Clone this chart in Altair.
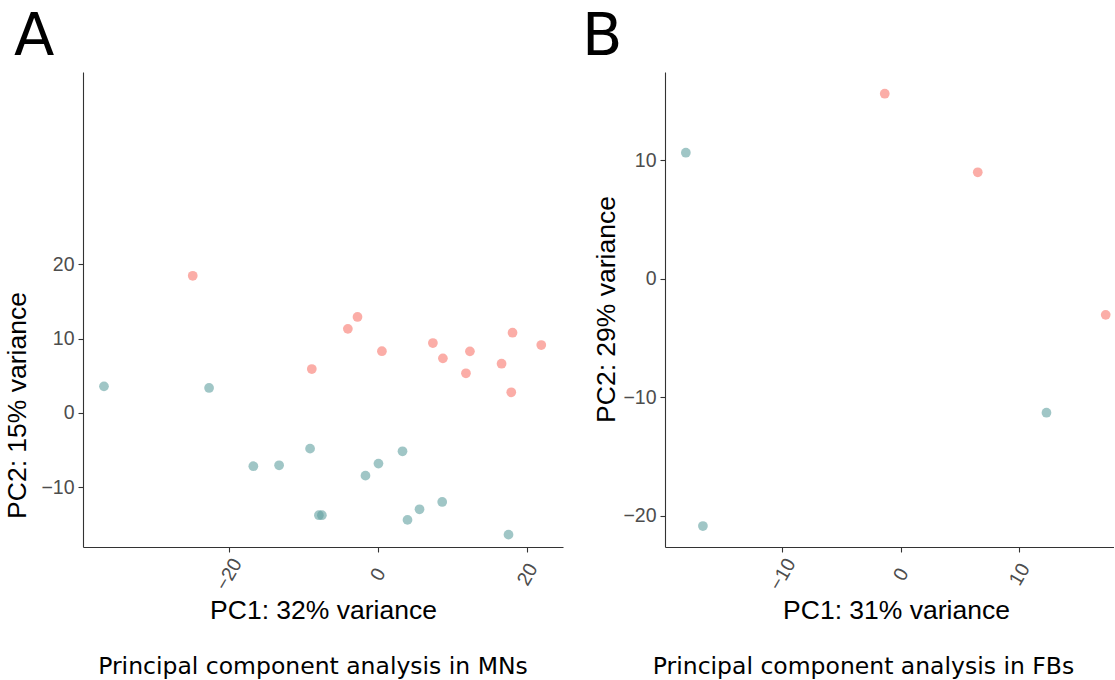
import altair as alt
import pandas as pd

# ---------------- data ----------------
# Panel A (MNs)
mn_red_x = [-24.8, -2.73, -4.02, 0.54, -8.85, 7.37, 8.71, 12.33, 11.80, 16.57, 18.04, 17.87, 21.89]
mn_red_y = [18.43, 12.9, 11.3, 8.3, 5.9, 9.4, 7.34, 8.28, 5.33, 6.62, 10.78, 2.78, 9.13]
mn_blue_x = [-36.69, -22.61, -16.68, -13.23, -9.08, -7.9, -7.5, -1.66, 0.08, 3.3, 3.97, 5.58, 8.62, 17.5]
mn_blue_y = [3.58, 3.36, -7.15, -7.02, -4.79, -13.73, -13.73, -8.42, -6.8, -5.14, -14.36, -12.93, -11.95, -16.34]

# Panel B (FBs)
fb_red_x = [-1.35, 6.5, 17.3]
fb_red_y = [15.62, 8.99, -3.04]
fb_blue_x = [-18.14, -16.7, 12.3]
fb_blue_y = [10.64, -20.86, -11.3]

groups = ["group 1", "group 2"]
colors = ["#F8766D", "#61A0A0"]

mn_x_ticks = [-20, 0, 20]
mn_y_ticks = [-10, 0, 10, 20]
fb_x_ticks = [-10, 0, 10]
fb_y_ticks = [-20, -10, 0, 10]


def frame(rx, ry, bx, by):
    return pd.DataFrame({
        "PC1": rx + bx,
        "PC2": ry + by,
        "group": [groups[0]] * len(rx) + [groups[1]] * len(bx),
    })


mn = frame(mn_red_x, mn_red_y, mn_blue_x, mn_blue_y)
fb = frame(fb_red_x, fb_red_y, fb_blue_x, fb_blue_y)

TICK_FONT = "Liberation Sans"


def panel(df, xdom, ydom, xt, yt, w, h, xtitle, ytitle, caption, cap_dx,
          letter, letter_dx, title_x, title_y, ytitle_pad):
    pts = alt.Chart(df).mark_circle(size=95, opacity=0.6).encode(
        x=alt.X("PC1:Q",
                scale=alt.Scale(domain=xdom, nice=False, zero=False),
                axis=alt.Axis(values=xt, title=xtitle, labelAngle=300,
                              labelAlign="center", labelBaseline="middle",
                              labelPadding=22, titlePadding=4, titleX=title_x)),
        y=alt.Y("PC2:Q",
                scale=alt.Scale(domain=ydom, nice=False, zero=False),
                axis=alt.Axis(values=yt, title=ytitle, titlePadding=ytitle_pad,
                              titleY=title_y)),
        color=alt.Color("group:N",
                        scale=alt.Scale(domain=groups, range=colors),
                        legend=None),
    ).properties(
        width=w, height=h,
        title=alt.TitleParams(caption, orient="bottom", anchor="middle",
                              font="DejaVu Sans", fontSize=23.5,
                              fontWeight="normal", color="black",
                              offset=31, dx=cap_dx),
    )
    return alt.vconcat(pts).properties(
        title=alt.TitleParams(letter, anchor="start", font="DejaVu Sans",
                              fontSize=59, fontWeight="normal", color="black",
                              offset=5, dx=letter_dx)
    )


pa = panel(mn, [-39.5, 24.8], [-18.0, 45.8], mn_x_ticks, mn_y_ticks, 480, 475,
           "PC1: 32% variance", "PC2: 15% variance",
           "Principal component analysis in MNs", -10, "A", 9, 240, 333, 9)
pb = panel(fb, [-19.9, 18.0], [-22.63, 17.45], fb_x_ticks, fb_y_ticks, 449, 475,
           "PC1: 31% variance", "PC2: 29% variance",
           "Principal component analysis in FBs", -26, "B", -12, 231, 237, 2)

chart = alt.hconcat(pa, pb, spacing=18).properties(
    padding={"left": 4, "top": 8, "right": 0, "bottom": 0}
).configure_view(strokeWidth=0).configure_axis(
    grid=False,
    domainColor="#333333",
    tickColor="#333333",
    domainWidth=1.1,
    tickWidth=1.1,
    tickSize=5,
    labelColor="#4D4D4D",
    labelFont=TICK_FONT,
    labelFontSize=19.5,
    labelPadding=4,
    titleFont=TICK_FONT,
    titleFontSize=26.5,
    titleFontWeight="normal",
    titleColor="black",
).configure_concat(spacing=0)

chart.save("out.html", embed_options={"renderer": "svg", "actions": False})
